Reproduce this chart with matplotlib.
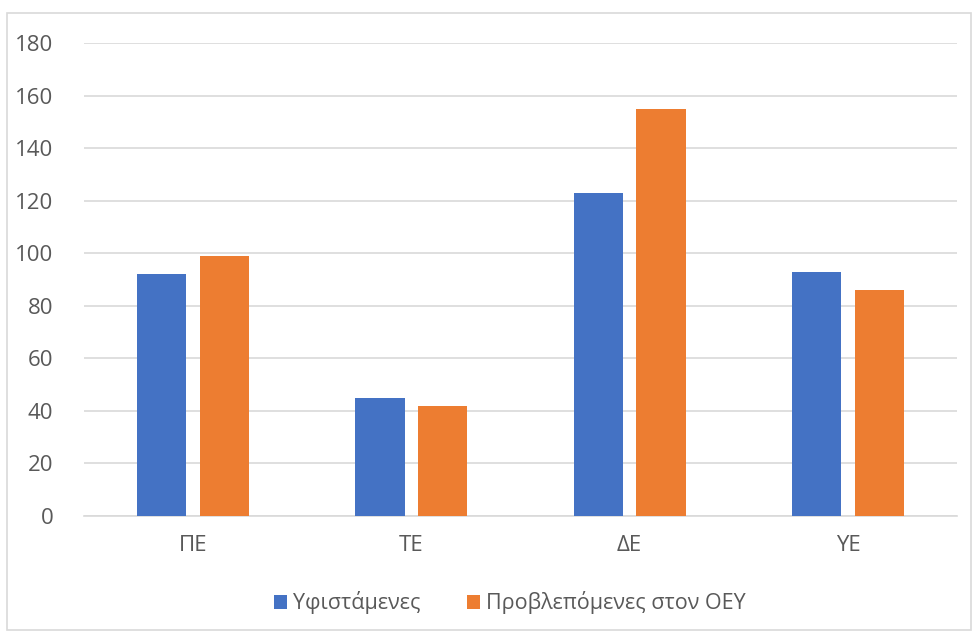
import matplotlib
matplotlib.use('Agg')
import matplotlib.pyplot as plt
import numpy as np

# categories and series
categories = ['ΠΕ', 'ΤΕ', 'ΔΕ', 'ΥΕ']
existing = [92, 45, 123, 93]
planned = [99, 42, 155, 86]
series_names = ['Υφιστάμενες', 'Προβλεπόμενες στον ΟΕΥ']

plt.rcParams['font.family'] = ['Open Sans', 'DejaVu Sans']

fig = plt.figure(figsize=(9.73, 6.32), dpi=100)
# outer chart border
fig.patches.append(plt.Rectangle((7 / 973, 2 / 632), 964 / 973, 617 / 632,
                                 transform=fig.transFigure, fill=False,
                                 edgecolor='#d9d9d9', linewidth=1.2))
ax = fig.add_axes([84 / 973, 1 - 516 / 632, 873 / 973, 473 / 632])

x = np.arange(len(categories))
w = 0.225
off = 0.144
ax.bar(x - off, existing, w, color='#4472c4', label=series_names[0], zorder=3)
ax.bar(x + off, planned, w, color='#ed7d31', label=series_names[1], zorder=3)

ax.set_xlim(-0.5, len(categories) - 0.5)
ax.set_ylim(0, 180)
ax.set_yticks(range(0, 181, 20))
ax.yaxis.grid(True, color='#d9d9d9', linewidth=1.2, zorder=0)
for s in ['top', 'right', 'left']:
    ax.spines[s].set_visible(False)
ax.spines['bottom'].set_color('#d9d9d9')
ax.spines['bottom'].set_linewidth(1.2)
ax.set_xticks(x)
ax.set_xticklabels(categories)
ax.tick_params(axis='both', length=0, labelsize=16, colors='#595959', pad=14)
ax.tick_params(axis='y', pad=22)

fig.legend(loc='center', bbox_to_anchor=(0.524, 1 - 603 / 632), ncol=2,
           frameon=False, fontsize=15.5, handlelength=0.6, handleheight=0.6,
           columnspacing=2.2, handletextpad=0.25, labelcolor='#595959')

fig.savefig('out.png', dpi=100)
